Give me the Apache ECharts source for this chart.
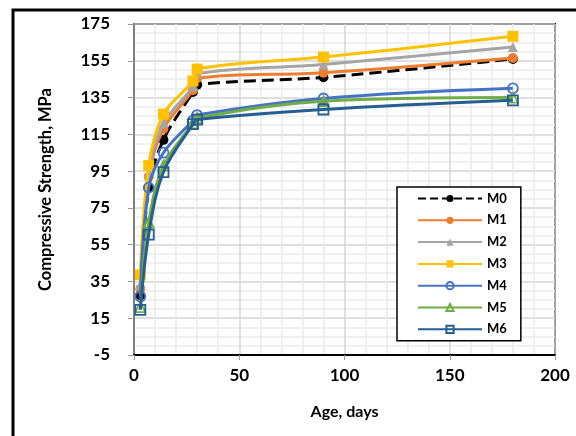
<!DOCTYPE html>
<html><head><meta charset="utf-8">
<script src="https://cdn.jsdelivr.net/npm/echarts@6/dist/echarts.min.js"></script>
<style>html,body{margin:0;padding:0;background:#fff}#c{width:576px;height:436px}</style>
</head><body><div id="c"></div>
<script>
var ages = [3, 7, 14, 28, 30, 90, 180];
var names = ['M0','M1','M2','M3','M4','M5','M6'];
var M0 = [27.5, 86, 112, 138, 142, 146, 156];
var M1 = [31, 92, 118, 139, 145.5, 148.5, 156.5];
var M2 = [33, 94, 121, 141, 148, 153, 162.5];
var M3 = [38.6, 98, 126, 144, 150.5, 157, 168.3];
var M4 = [26.8, 86, 105, 122.5, 125.5, 134.5, 140];
var M5 = [21, 67, 98, 121, 124, 133, 135];
var M6 = [19.5, 60.5, 94.5, 120.5, 123, 128.5, 133.5];
var yTicks = [-5, 175, 20];
var xTicks = [0, 200, 50];

var vals = [M0, M1, M2, M3, M4, M5, M6];
var styles = [
  {c:'#000000', sym:'circle', fill:'#000000', dash:'dashed', size:10},
  {c:'#ED7D31', sym:'circle', fill:'#ED7D31', dash:'solid', size:10},
  {c:'#A5A5A5', sym:'triangle', fill:'#A5A5A5', dash:'solid', size:10},
  {c:'#FFC000', sym:'rect', fill:'#FFC000', dash:'solid', size:11},
  {c:'#4472C4', sym:'circle', fill:'transparent', dash:'solid', size:10},
  {c:'#70AD47', sym:'triangle', fill:'transparent', dash:'solid', size:10},
  {c:'#255E91', sym:'rect', fill:'transparent', dash:'solid', size:10}
];
var series = names.map(function(n, i){
  var s = styles[i];
  return {
    name: n, type: 'line', smooth: 0.35, z: 3 + i,
    data: ages.map(function(a, j){ return [a, vals[i][j]]; }),
    symbol: s.sym, symbolSize: s.size, showSymbol: true,
    lineStyle: {color: s.c, width: 3, type: s.dash},
    itemStyle: {color: s.fill, borderColor: s.c, borderWidth: s.fill === 'transparent' ? 1.8 : 0}
  };
});
var font = 'Lato, "Liberation Sans", sans-serif';
var chart = echarts.init(document.getElementById('c'));
chart.setOption({
  animation: false,
  backgroundColor: '#fff',
  graphic: [{type:'rect', shape:{x:13, y:10, width:620, height:480}, style:{fill:'none', stroke:'#000', lineWidth:3}, z:-10}],
  grid: {left: 134, right: 21, top: 24, bottom: 81, show: true, borderColor: '#000', borderWidth: 2, backgroundColor:'transparent'},
  legend: {
    show: true, orient: 'vertical', left: 397, top: 187,
    width: 134, itemWidth: 64, itemHeight: 9, itemGap: 8.8,
    padding: [5, 14, 5, 20],
    borderColor: '#000', borderWidth: 1.5, backgroundColor: '#fff',
    textStyle: {fontFamily: font, fontWeight: 'bold', fontSize: 13, color: '#000'},
    data: names
  },
  xAxis: {
    type: 'value', min: xTicks[0], max: xTicks[1], interval: xTicks[2],
    name: 'Age, days', nameLocation: 'middle', nameGap: 49,
    nameTextStyle: {fontFamily: font, fontWeight: 'bold', fontSize: 16, color: '#000'},
    axisLine: {show: true, onZero: false, lineStyle: {color: '#000', width: 2}},
    axisTick: {show: true, length: 5, lineStyle: {color: '#999'}},
    axisLabel: {fontFamily: font, fontWeight: 'bold', fontSize: 17, color: '#000', margin: 12},
    splitLine: {show: true, lineStyle: {color: '#d4d4d4', width: 1.5}},
    minorTick: {show: false, splitNumber: 5},
    minorSplitLine: {show: true, lineStyle: {color: '#ebebeb', width: 1.5}}
  },
  yAxis: {
    type: 'value', min: yTicks[0], max: yTicks[1], interval: yTicks[2],
    name: 'Compressive Strength, MPa', nameLocation: 'middle', nameGap: 80,
    nameTextStyle: {fontFamily: font, fontWeight: 'bold', fontSize: 16.5, color: '#000'},
    axisLine: {show: true, onZero: false, lineStyle: {color: '#808080', width: 2}},
    axisTick: {show: true, length: 6, lineStyle: {color: '#999'}},
    axisLabel: {fontFamily: font, fontWeight: 'bold', fontSize: 17, color: '#000', margin: 24},
    splitLine: {show: true, lineStyle: {color: '#d4d4d4', width: 1.5}},
    minorTick: {show: false, splitNumber: 4},
    minorSplitLine: {show: true, lineStyle: {color: '#ebebeb', width: 1.5}}
  },
  series: series
});
</script></body></html>
